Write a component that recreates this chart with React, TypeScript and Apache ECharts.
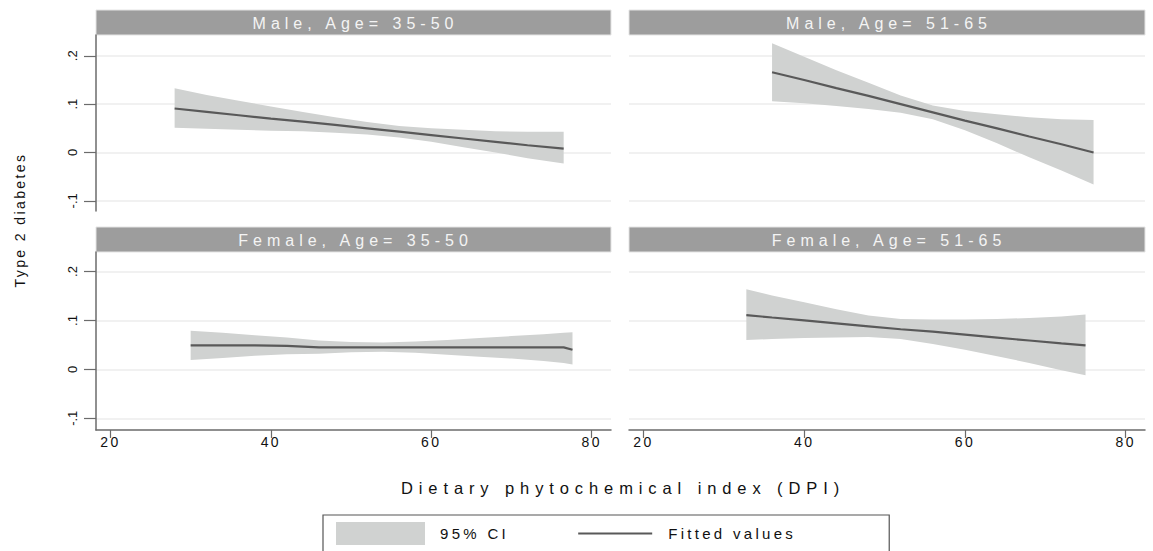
import React, { useEffect, useRef } from 'react';
import * as echarts from 'echarts';

// ---------- data ----------
const panelTitles = ['Male, Age= 35-50', 'Male, Age= 51-65', 'Female, Age= 35-50', 'Female, Age= 51-65'];
const xTicks = [20, 40, 60, 80];
const yTicks = [-0.1, 0, 0.1, 0.2];
const yAxisTitle = 'Type 2 diabetes';
const xAxisTitle = 'Dietary phytochemical index (DPI)';
const legendNames = ['95% CI', 'Fitted values'];

// Male, Age 35-50
const dpiM1 = [28, 32, 36, 40, 44, 48, 52, 56, 60, 64, 68, 72, 76.5];
const fitM1 = [0.091, 0.084, 0.077, 0.07, 0.064, 0.057, 0.05, 0.043, 0.036, 0.029, 0.022, 0.015, 0.008];
const hiM1 = [0.133, 0.119, 0.107, 0.095, 0.084, 0.073, 0.063, 0.055, 0.05, 0.047, 0.044, 0.043, 0.043];
const loM1 = [0.051, 0.049, 0.047, 0.045, 0.044, 0.041, 0.037, 0.031, 0.022, 0.011, 0.0, -0.012, -0.023];

// Male, Age 51-65
const dpiM2 = [36, 40, 44, 48, 52, 56, 60, 64, 68, 72, 76];
const fitM2 = [0.166, 0.15, 0.133, 0.117, 0.1, 0.083, 0.066, 0.05, 0.033, 0.017, 0.0];
const hiM2 = [0.226, 0.198, 0.17, 0.144, 0.118, 0.097, 0.086, 0.079, 0.073, 0.069, 0.067];
const loM2 = [0.106, 0.102, 0.096, 0.09, 0.082, 0.069, 0.046, 0.019, -0.01, -0.037, -0.066];

// Female, Age 35-50
const dpiF1 = [30, 34, 38, 42, 46, 50, 54, 58, 62, 66, 70, 74, 76.5, 77.6];
const fitF1 = [0.049, 0.049, 0.049, 0.048, 0.045, 0.045, 0.045, 0.045, 0.045, 0.045, 0.045, 0.045, 0.045, 0.04];
const hiF1 = [0.079, 0.075, 0.07, 0.065, 0.059, 0.056, 0.055, 0.057, 0.06, 0.064, 0.068, 0.072, 0.075, 0.076];
const loF1 = [0.019, 0.023, 0.028, 0.031, 0.032, 0.035, 0.036, 0.034, 0.03, 0.026, 0.022, 0.017, 0.013, 0.01];

// Female, Age 51-65
const dpiF2 = [32.8, 36, 40, 44, 48, 52, 56, 60, 64, 68, 72, 75];
const fitF2 = [0.111, 0.106, 0.1, 0.094, 0.088, 0.082, 0.077, 0.071, 0.065, 0.059, 0.053, 0.049];
const hiF2 = [0.164, 0.151, 0.137, 0.123, 0.11, 0.103, 0.102, 0.102, 0.103, 0.105, 0.108, 0.112];
const loF2 = [0.06, 0.062, 0.064, 0.065, 0.066, 0.062, 0.052, 0.04, 0.027, 0.013, -0.002, -0.012];

// ---------- styling / layout ----------
const FONT = 'Liberation Sans';
const BAND = '#d0d2d1';
const LINE = '#595959';
const AXIS = '#6b6b6b';

const panels = [
  { x: dpiM1, fit: fitM1, hi: hiM1, lo: loM1, grid: { left: 96, top: 35, width: 515, height: 176 }, yMin: -0.121, yMax: 0.243, left: true, bottom: false },
  { x: dpiM2, fit: fitM2, hi: hiM2, lo: loM2, grid: { left: 629, top: 35, width: 516, height: 176 }, yMin: -0.121, yMax: 0.243, left: false, bottom: false },
  { x: dpiF1, fit: fitF1, hi: hiF1, lo: loF1, grid: { left: 96, top: 252, width: 515, height: 178 }, yMin: -0.124, yMax: 0.24, left: true, bottom: true },
  { x: dpiF2, fit: fitF2, hi: hiF2, lo: loF2, grid: { left: 629, top: 252, width: 516, height: 178 }, yMin: -0.124, yMax: 0.24, left: false, bottom: true },
];

const fmtY = (v: number) => {
  if (Math.abs(v) < 1e-9) return '0';
  const s = String(Math.round(Math.abs(v) * 10) / 10).replace(/^0/, '');
  return (v < 0 ? '-' : '') + s;
};

function buildOption() {
  const grids = panels.map((p) => ({ ...p.grid, outerBoundsMode: 'none', containLabel: false }));
  const xAxes = panels.map((p, i) => ({
    type: 'value',
    gridIndex: i,
    min: 18.2,
    max: 82.4,
    show: p.bottom,
    axisLine: { show: true, onZero: false, lineStyle: { color: AXIS, width: 1.5 } },
    axisTick: { show: true, length: 8, customValues: xTicks, lineStyle: { color: AXIS, width: 1.2 } },
    axisLabel: { show: true, customValues: xTicks, fontSize: 14, color: '#111', margin: 5, fontFamily: FONT },
    splitLine: { show: false },
  }));
  const yAxes = panels.map((p, i) => ({
    type: 'value',
    gridIndex: i,
    min: p.yMin,
    max: p.yMax,
    axisLine: { show: p.left, onZero: false, lineStyle: { color: AXIS, width: 1.5 } },
    axisTick: { show: p.left, length: 12, customValues: yTicks, lineStyle: { color: AXIS, width: 1.2 } },
    axisLabel: {
      show: p.left, customValues: yTicks, rotate: 90, fontSize: 13, color: '#111', margin: 17,
      fontFamily: FONT, formatter: fmtY,
    },
    splitLine: { show: true, lineStyle: { color: '#ededed', width: 1.5 } },
  }));
  const series: any[] = [];
  panels.forEach((p, i) => {
    series.push({
      type: 'custom', name: legendNames[0], xAxisIndex: i, yAxisIndex: i,
      data: p.x.map((x, k) => [x, p.lo[k], p.hi[k]]),
      encode: { x: 0, y: [1, 2] },
      itemStyle: { color: BAND }, silent: true, z: 1,
      renderItem: (params: any, api: any) => {
        if (params.dataIndex !== 0) return null;
        const upper = p.x.map((x, k) => api.coord([x, p.hi[k]]));
        const lower = p.x.map((x, k) => api.coord([x, p.lo[k]])).reverse();
        return { type: 'polygon', shape: { points: upper.concat(lower) }, style: { fill: BAND } };
      },
    });
    series.push({
      type: 'line', name: legendNames[1], xAxisIndex: i, yAxisIndex: i,
      data: p.x.map((x, k) => [x, p.fit[k]]), symbol: 'none', silent: true,
      lineStyle: { color: LINE, width: 2.2 }, itemStyle: { color: LINE }, clip: false, z: 3,
    });
  });

  const graphics: any[] = [];
  panels.forEach((p, i) => {
    const g = p.grid;
    const top = g.top - 25;
    graphics.push({
      type: 'rect', shape: { x: g.left, y: top, width: g.width, height: 25 },
      style: { fill: '#9d9d9d', stroke: '#e4e4e4', lineWidth: 1 }, silent: true,
    });
    graphics.push({
      type: 'text', x: g.left + g.width / 2 + 2, y: top + 13,
      style: { text: panelTitles[i], fill: '#f4f4f4', fontSize: 16, fontFamily: FONT, textAlign: 'center', textVerticalAlign: 'middle' },
      silent: true,
    });
  });
  graphics.push({
    type: 'text', x: 20, y: 220, rotation: Math.PI / 2,
    style: { text: yAxisTitle, fill: '#111', fontSize: 14, fontFamily: FONT, textAlign: 'center', textVerticalAlign: 'middle' },
  });
  graphics.push({
    type: 'text', x: 623, y: 488,
    style: { text: xAxisTitle, fill: '#111', fontSize: 16.5, fontFamily: FONT, textAlign: 'center', textVerticalAlign: 'middle' },
  });

  return {
    animation: false,
    backgroundColor: '#ffffff',
    grid: grids,
    xAxis: xAxes,
    yAxis: yAxes,
    series,
    legend: {
      left: 323,
      top: 515,
      orient: 'horizontal',
      padding: [7, 136, 10, 13],
      itemWidth: 89,
      itemHeight: 23,
      itemGap: 83,
      borderColor: '#555',
      borderWidth: 1.2,
      backgroundColor: '#fff',
      selectedMode: false,
      itemStyle: { borderWidth: 0 },
      textStyle: { fontSize: 15, color: '#111', fontFamily: FONT, padding: [0, 0, 0, 10] },
      data: [
        { name: legendNames[0], icon: 'rect' },
        { name: legendNames[1], icon: 'path://M0,1M6,0H80V2H6ZM89,1', textStyle: { padding: [0, 0, 0, 2] } },
      ],
    },
    graphic: graphics,
  };
}

const css = `
body { margin: 0; }
#root svg text[style*="16px"] { letter-spacing: 5px; }
#root svg text[style*="16.5px"] { letter-spacing: 5.9px; }
#root svg text[style*="15px"] { letter-spacing: 3.3px; }
#root svg text[style*="14px"] { letter-spacing: 2.4px; }
`;

export default function App() {
  const ref = useRef<HTMLDivElement>(null);
  useEffect(() => {
    if (!ref.current) return;
    const chart = echarts.init(ref.current, undefined, { renderer: 'svg' });
    chart.setOption(buildOption() as any);
    return () => chart.dispose();
  }, []);
  return (
    <>
      <style>{css}</style>
      <div ref={ref} style={{ width: 1153, height: 551 }} />
    </>
  );
}
